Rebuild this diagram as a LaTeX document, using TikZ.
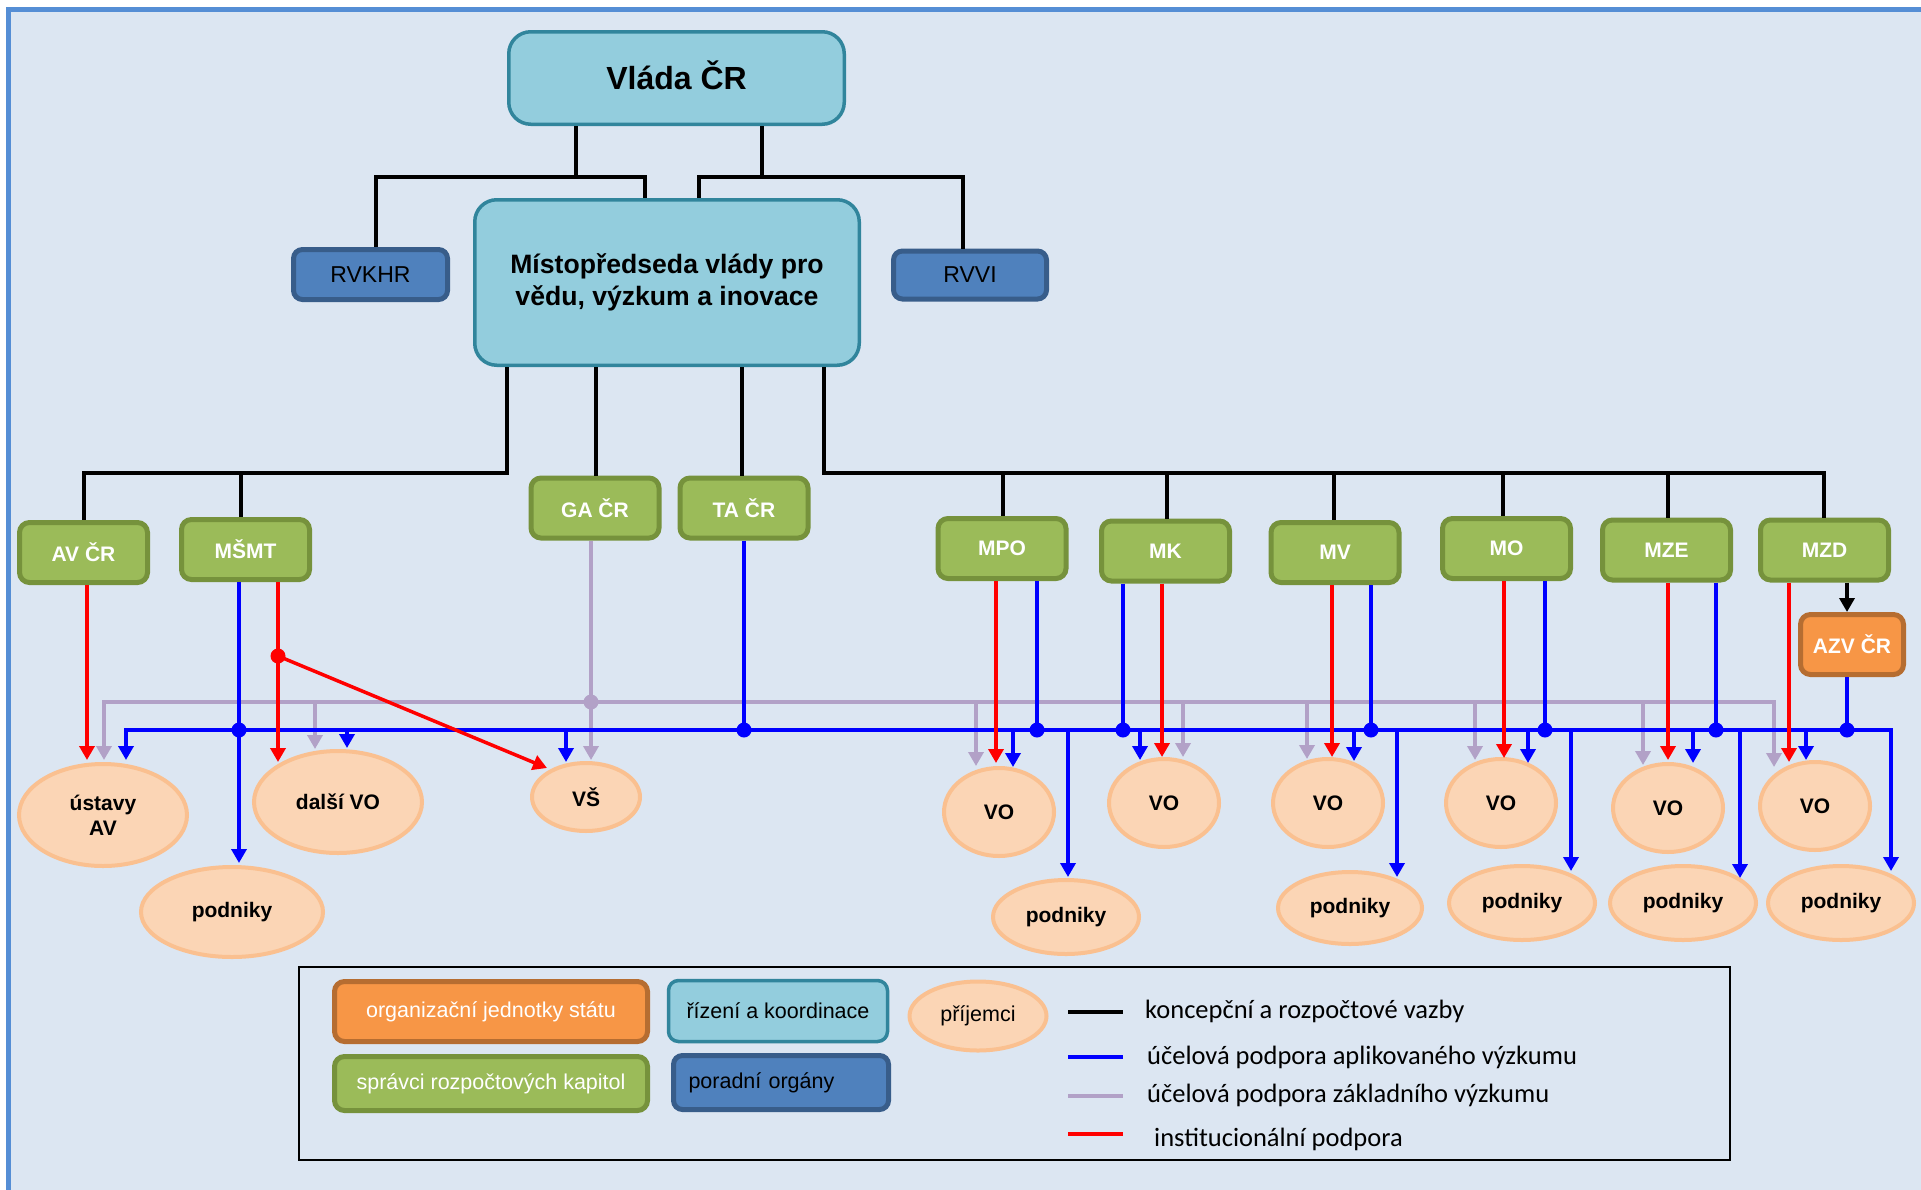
\documentclass[tikz,border=0pt]{standalone}
\usepackage{fontspec}
\setmainfont{Liberation Sans}
\newfontfamily\legfont{Carlito}
\usetikzlibrary{shapes.geometric,arrows.meta}
\definecolor{bgblue}{HTML}{DCE6F2}
\definecolor{frameblue}{HTML}{558ED5}
\definecolor{lblue}{HTML}{93CDDD}
\definecolor{lbluedraw}{HTML}{31859C}
\definecolor{gfill}{HTML}{9BBB59}
\definecolor{gdraw}{HTML}{76923C}
\definecolor{dbfill}{HTML}{4F81BD}
\definecolor{dbdraw}{HTML}{385D8A}
\definecolor{ofill}{HTML}{F79646}
\definecolor{odraw}{HTML}{B66D31}
\definecolor{pfill}{HTML}{FBD5B5}
\definecolor{pdraw}{HTML}{FAC090}
\definecolor{lav}{HTML}{B2A1C7}
\definecolor{pureblue}{HTML}{0000FF}
\definecolor{purered}{HTML}{FF0000}
\newcommand\fs[2]{\fontsize{#1}{#2}\selectfont}
\tikzset{
  basebox/.style={align=center, inner sep=0pt},
  govbox/.style={basebox, fill=lblue, draw=lbluedraw, line width=3.5pt, rounded corners=22pt},
  minbox/.style={basebox, fill=gfill, draw=gdraw, line width=5pt, rounded corners=10pt, text=white,
     font=\fs{21}{25}\bfseries, minimum width=128pt, minimum height=60pt},
  advbox/.style={basebox, fill=dbfill, draw=dbdraw, line width=5pt, rounded corners=9pt, font=\fs{23}{27}},
  orgbox/.style={basebox, fill=ofill, draw=odraw, line width=5pt, rounded corners=10pt},
  recip/.style={ellipse, fill=pfill, draw=pdraw, line width=4pt, inner sep=0pt,
     font=\fs{21}{25}\bfseries, align=center},
  blk/.style={line width=3.5pt, black},
  bl/.style={line width=3.5pt, pureblue},
  rd/.style={line width=3.5pt, purered},
  pu/.style={line width=3.5pt, lav},
  arrowhd/.style={-{Triangle[length=14pt,width=15pt]}},
  legtext/.style={anchor=west, inner sep=0pt, font=\legfont\fs{26.5}{31}, text height=17pt, text depth=5pt},
}
\begin{document}
\begin{tikzpicture}[x=1pt,y=-1pt]
\useasboundingbox (0,0) rectangle (1921,1189);
\fill[white] (0,0) rectangle (1921,1189);
\begin{scope}
\clip (0,0) rectangle (1921,1189);
\draw[frameblue, line width=5pt, fill=bgblue] (8.5,9.5) rectangle (1990,1240);
\end{scope}

% top level
\node[govbox, minimum width=335.5pt, minimum height=92.5pt, font=\fs{32}{38}\bfseries, text height=23pt, text depth=0pt] (vlada) at (676.5,78) {Vláda ČR};
\node[govbox, minimum width=384.5pt, minimum height=165.5pt, font=\fs{26.6}{32}\bfseries] (misto) at (667,282.5) {Místopředseda vlády pro\\vědu, výzkum a inovace};
\node[advbox, minimum width=154pt, minimum height=50pt] (rvkhr) at (370.5,274.5) {RVKHR};
\node[advbox, minimum width=153pt, minimum height=48pt] (rvvi) at (970,275) {RVVI};

% ministries
\node[minbox] (avcr) at (83.5,552.5) {AV ČR};
\node[minbox] (msmt) at (245.5,549.5) {MŠMT};
\node[minbox] (gacr) at (595,508) {GA ČR};
\node[minbox] (tacr) at (744,508) {TA ČR};
\node[minbox] (mpo) at (1002,548.5) {MPO};
\node[minbox] (mk) at (1165.5,551) {MK};
\node[minbox] (mv) at (1335,552.5) {MV};
\node[minbox] (mo) at (1506.5,548.5) {MO};
\node[minbox] (mze) at (1666.5,550) {MZE};
\node[minbox] (mzd) at (1824.5,550) {MZD};
\node[orgbox, minimum width=103pt, minimum height=60pt, text=white, font=\fs{21}{25}\bfseries] (azv) at (1852,644.5) {AZV ČR};

% recipients
\node[recip, minimum width=168pt, minimum height=102pt] (ustavy) at (103,815) {ústavy\\AV};
\node[recip, minimum width=168pt, minimum height=102pt] (dalsi) at (338,802) {další VO};
\node[recip, minimum width=108pt, minimum height=68pt] (vs) at (586,797) {VŠ};
\node[recip, minimum width=182pt, minimum height=90pt] (podA) at (232,912) {podniky};
\node[recip, minimum width=110pt, minimum height=88pt] (voA) at (999,812) {VO};
\node[recip, minimum width=146pt, minimum height=74pt] (podB) at (1066,917) {podniky};
\node[recip, minimum width=110pt, minimum height=88pt] (voB) at (1164,803) {VO};
\node[recip, minimum width=110pt, minimum height=88pt] (voC) at (1328,803) {VO};
\node[recip, minimum width=144pt, minimum height=72pt] (podC) at (1350,908) {podniky};
\node[recip, minimum width=110pt, minimum height=88pt] (voD) at (1501,803) {VO};
\node[recip, minimum width=146pt, minimum height=74pt] (podD) at (1522,903) {podniky};
\node[recip, minimum width=110pt, minimum height=88pt] (voE) at (1668,808) {VO};
\node[recip, minimum width=146pt, minimum height=74pt] (podE) at (1683,903) {podniky};
\node[recip, minimum width=110pt, minimum height=88pt] (voF) at (1815,806) {VO};
\node[recip, minimum width=146pt, minimum height=74pt] (podF) at (1841,903) {podniky};

% black connectors
\draw[blk] (vlada.south -| 576,0) -- (576,177);
\draw[blk] (vlada.south -| 762,0) -- (762,177);
\draw[blk] (rvkhr.north -| 376,0) -- (376,177) -- (645,177) -- (misto.north -| 645,0);
\draw[blk] (misto.north -| 699,0) -- (699,177) -- (963,177) -- (rvvi.north -| 963,0);
\draw[blk] (misto.south -| 507,0) -- (507,473) -- (84,473) -- (avcr.north -| 84,0);
\draw[blk] (241,473) -- (msmt.north -| 241,0);
\draw[blk] (misto.south -| 596,0) -- (gacr.north -| 596,0);
\draw[blk] (misto.south -| 742,0) -- (tacr.north -| 742,0);
\draw[blk] (misto.south -| 824,0) -- (824,473) -- (1824,473) -- (mzd.north -| 1824,0);
\foreach \x/\n in {1003/mpo,1167/mk,1334/mv,1503/mo,1668/mze}
  \draw[blk] (\x,473) -- (\n.north -| \x,0);
\draw[blk,arrowhd] (mzd.south -| 1847,0) -- (azv.north -| 1847,0);

% purple connectors
\draw[pu,arrowhd] (gacr.south -| 591,0) -- (591,760);
\draw[pu,arrowhd] (591,702) -- (104,702) -- (104,760);
\draw[pu,arrowhd] (591,702) -- (1774,702) -- (1774,767);
\foreach \x/\y in {315/749,976/766,1183/757,1307/759,1475/760,1643/765}
  \draw[pu,arrowhd] (\x,702) -- (\x,\y);

% blue connectors
\draw[bl] (tacr.south -| 744,0) -- (744,730);
\draw[bl,arrowhd] (744,730) -- (126,730) -- (126,760);
\draw[bl,arrowhd] (744,730) -- (1891,730) -- (1891,871);
\draw[bl,arrowhd] (msmt.south -| 239,0) -- (239,863);
\foreach \x/\y in {347/748,566/762,1013/767,1068/877,1140/760,1354/761,1397/877,1528/763,1571/871,1693/763,1740/878,1806/760}
  \draw[bl,arrowhd] (\x,730) -- (\x,\y);
\foreach \x/\n in {1037/mpo,1123/mk,1371/mv,1545/mo,1716/mze,1847/azv}
  \draw[bl] (\n.south -| \x,0) -- (\x,730);

% red connectors
\draw[rd,arrowhd] (avcr.south -| 87,0) -- (87,760);
\draw[rd,arrowhd] (msmt.south -| 278,0) -- (278,762);
\draw[rd,arrowhd] (278,656) -- (547,768);
\foreach \x/\n/\y in {996/mpo/763,1162/mk/757,1332/mv/757,1504/mo/758,1668/mze/760,1789/mzd/762}
  \draw[rd,arrowhd] (\n.south -| \x,0) -- (\x,\y);

% junction dots
\fill[purered] (278,656) circle (7.5);
\fill[lav] (591,702) circle (7.5);
\foreach \x in {239,744,1037,1123,1371,1545,1716,1847}
  \fill[pureblue] (\x,730) circle (7.5);

% legend
\node[draw=black, line width=2pt, minimum width=1431pt, minimum height=193pt, inner sep=0pt] (legend) at (1014.5,1063.5) {};
\node[orgbox, minimum width=313pt, minimum height=60pt, text=white, font=\fs{21.5}{26}] (lgorg) at (491,1011.5) {organizační jednotky státu};
\node[govbox, rounded corners=10pt, minimum width=219pt, minimum height=61pt, font=\fs{21.5}{26}] (lgriz) at (778,1011) {řízení a koordinace};
\node[recip, minimum width=137pt, minimum height=69pt, font=\fs{21.5}{26}] (lgprij) at (978,1016) {příjemci};
\node[minbox, minimum width=313pt, minimum height=54pt, font=\fs{21.5}{26}] (lgspr) at (491,1083.5) {správci rozpočtových kapitol};
\node[advbox, minimum width=215pt, minimum height=54pt, font=\fs{21.5}{26}, text width=185pt, align=left] (lgpor) at (781,1082.5) {poradní orgány};
\coordinate (lk1) at (1068,1012); \coordinate (lk2) at (1123,1012);
\coordinate (lb1) at (1068,1057); \coordinate (lb2) at (1123,1057);
\coordinate (lp1) at (1068,1096); \coordinate (lp2) at (1123,1096);
\coordinate (lr1) at (1068,1134); \coordinate (lr2) at (1123,1134);
\draw[blk] (lk1) -- (lk2);
\draw[bl] (lb1) -- (lb2);
\draw[pu] (lp1) -- (lp2);
\draw[rd] (lr1) -- (lr2);
\node[legtext] (tk) at (1145,1012) {koncepční a rozpočtové vazby};
\node[legtext] (tb) at (1147,1058) {účelová podpora aplikovaného výzkumu};
\node[legtext] (tp) at (1147,1096) {účelová podpora základního výzkumu};
\node[legtext] (tr) at (1154,1140) {institucionální podpora};
\end{tikzpicture}
\end{document}
